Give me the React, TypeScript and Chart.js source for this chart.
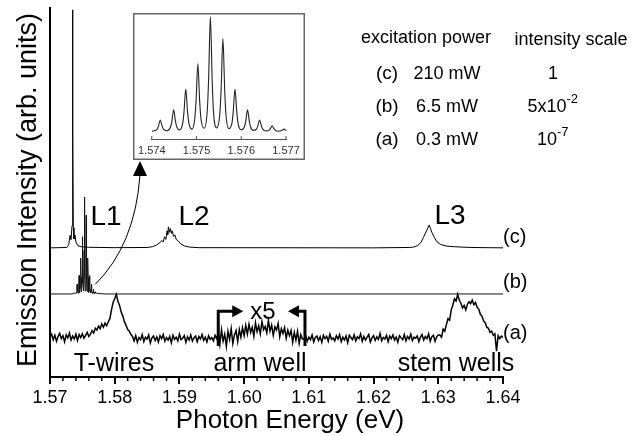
import React, { useEffect, useRef } from "react";
import { Chart, registerables } from "chart.js";

Chart.register(...registerables);

const FONT = "'Liberation Sans', Arial, Helvetica, sans-serif";

// ---------- axis ticks ----------
const X_TICKS = [1.57, 1.58, 1.59, 1.6, 1.61, 1.62, 1.63, 1.64];
const X_MIN = 1.57;
const X_MAX = 1.64;
const MINOR_STEP = 0.002;
const INSET_TICKS = [1.574, 1.575, 1.576, 1.577];

// ---------- trace offsets (stacking of spectra) ----------
const OFFSET_C = 35.0;
const OFFSET_B = 22.5;
const OFFSET_A = 10.6;
const COMB_SCALE = 26.3; // intensity of the L1 comb of (b) in main-plot units

// ---------- (c) 210 mW : [energy eV, intensity] ----------
const TRACE_C: [number, number][] = [
  [1.57, 0.0], [1.5726, 0.1], [1.5729, 0.9], [1.5731, 3.4], [1.57325, 2.2],
  [1.5734, 6.0], [1.57347, 30.0], [1.57351, 64.5], [1.57355, 30.0], [1.5736, 5.5],
  [1.5737, 2.4], [1.57385, 3.5], [1.574, 1.6], [1.5743, 0.6], [1.5748, 0.3],
  [1.576, 0.15], [1.58, 0.05], [1.585, 0.1], [1.5858, 0.3], [1.5864, 0.7],
  [1.5869, 1.3], [1.5873, 2.0], [1.5875, 1.6], [1.5877, 3.0], [1.5879, 2.3],
  [1.5881, 4.6], [1.5882, 3.6], [1.5883, 5.7], [1.5885, 4.2], [1.5886, 5.2],
  [1.5888, 3.9], [1.5889, 4.6], [1.5891, 3.1], [1.5893, 3.5], [1.5895, 2.3],
  [1.5898, 1.9], [1.5902, 1.1], [1.5908, 0.5], [1.5916, 0.2], [1.593, 0.05],
  [1.62, 0.0], [1.6255, 0.1], [1.6262, 0.2], [1.6268, 0.6], [1.6273, 1.4],
  [1.6277, 2.8], [1.6281, 4.3], [1.6286, 6.2], [1.629, 4.2], [1.6294, 2.8],
  [1.6298, 1.6], [1.6304, 0.9], [1.6312, 0.5], [1.6325, 0.3], [1.635, 0.1],
  [1.64, 0.0],
];

// ---------- (b) 6.5 mW, L1 comb (normalized, also shown in the inset) ----------
const COMB: [number, number][] = [
  [1.574, 0.004],
  [1.57412, 0.02], [1.57415, 0.05], [1.57419, 0.1], [1.57423, 0.05], [1.57426, 0.022], [1.57434, 0.008],
  [1.57442, 0.04], [1.57445, 0.09], [1.57449, 0.19], [1.57453, 0.09], [1.57456, 0.04], [1.57462, 0.014],
  [1.57469, 0.07], [1.57472, 0.17], [1.57476, 0.37], [1.5748, 0.17], [1.57483, 0.075], [1.5749, 0.022],
  [1.57496, 0.11], [1.57499, 0.27], [1.57503, 0.59], [1.57507, 0.27], [1.5751, 0.11], [1.57517, 0.03],
  [1.57524, 0.18], [1.57527, 0.45], [1.57531, 1.0], [1.57535, 0.45], [1.57538, 0.17], [1.57545, 0.032],
  [1.57552, 0.15], [1.57555, 0.37], [1.57559, 0.81], [1.57563, 0.36], [1.57566, 0.14], [1.57572, 0.026],
  [1.57579, 0.07], [1.57582, 0.17], [1.57586, 0.37], [1.5759, 0.17], [1.57593, 0.07], [1.576, 0.016],
  [1.57607, 0.04], [1.5761, 0.09], [1.57614, 0.19], [1.57618, 0.09], [1.57621, 0.04], [1.57627, 0.01],
  [1.57634, 0.022], [1.57637, 0.05], [1.57641, 0.1], [1.57645, 0.05], [1.57648, 0.022], [1.57655, 0.006],
  [1.57662, 0.013], [1.57665, 0.026], [1.57669, 0.05], [1.57673, 0.026], [1.57676, 0.013], [1.57683, 0.003],
  [1.5769, 0.009], [1.57693, 0.016], [1.57696, 0.022], [1.577, 0.01],
];
const B_LEFT: [number, number][] = [[1.57, 0], [1.5734, 0], [1.5737, 0.01], [1.5739, 0.006]];
const B_RIGHT: [number, number][] = [[1.5772, 0.008], [1.5776, 0.004], [1.5785, 0], [1.64, 0]];

// ---------- (a) 0.3 mW, sampled every A_STEP eV from A_START ----------
const A_START = 1.57;
const A_STEP = 0.00025;
const A_VALUES: number[] = [
  // 1.5700 - 1.5760
  0.3, 1.0, -0.5, 0.7, -0.9, 0.4, 1.2, -0.2, 0.6, -1.1, 0.8, 0.0, 1.3, -0.6, 0.5, -0.3, 1.0, -0.7, 0.9, 0.1,
  1.1, -0.1, 0.7, 1.5, 0.4,
  // shoulder
  1.0, 2.0, 1.3, 2.6, 2.1, 3.2, 2.5, 3.8, 2.9, 4.0, 3.3, 4.3,
  // T-wires peak
  5.2, 7.6, 9.6, 10.6, 11.8, 9.9, 8.8, 7.0, 5.9, 4.4, 3.4, 2.3, 1.8, 0.9,
  // baseline to 1.596
  0.4, -0.8, 0.6, -1.2, 0.1, -0.5, 0.9, -1.0, 0.2, -0.3,
  0.8, -1.4, 0.0, 0.5, -0.7, 0.3, -1.1, 0.6, -0.2, 0.9,
  -0.9, 0.1, -0.6, 0.4, -1.3, 0.7, -0.4, 0.2, -0.8, 1.0,
  -0.5, -0.1, 0.6, -1.2, 0.3, -0.6, 0.8, -0.9, 0.0, 0.5,
  -1.0, 0.4, -0.3, 0.9, -0.7, 0.2, -1.1, 0.6, -0.4, 0.1,
  -0.8, 0.7, -0.2,
  // x5 region (arm well)
  1.5, -1.8, 2.2, -0.9, 1.0, -2.3, 1.8, -0.4, 2.5, -1.5, 0.8, 2.0, -1.0,
  2.3, 0.2, 2.8, 0.6, 3.4, 1.0, 3.7, 1.5, 2.9, 0.4,
  4.1, 1.7, 3.3, 1.1, 4.4, 2.2, 3.1, 1.4, 4.7, 1.9,
  3.5, 0.7, 3.0, 2.1, 3.9, 0.3, 2.5, 1.2, 2.8, -0.1,
  2.1, 0.6,
  2.0, -1.2, 1.5, -0.6, 1.8, -1.5, 0.9, -0.3,
  // baseline to 1.630
  -0.3, 0.6, -0.9, 0.2, -0.5, 0.8, -1.1, 0.1, 0.5, -0.7,
  0.3, -1.2, 0.7, -0.2, 0.4, -0.9, 1.0, -0.4, 0.0, -0.8,
  0.6, -0.3, 0.9, -1.0, 0.2, -0.6, 0.5, -1.3, 0.7, 0.1,
  -0.5, 0.8, -0.8, 0.3, -0.2, 1.1, -0.9, 0.4, -0.6, 0.2,
  0.9, -1.1, 0.0, 0.6, -0.7, 0.3, -0.4, 1.2, -0.8, 0.1,
  -0.3, 0.7, -1.0, 0.5, -0.2, 0.8, -0.6, 0.2, -1.2, 0.6,
  0.0, -0.5, 0.9, -0.8, 0.4, -0.3, 1.0, -0.7, 0.2, -0.1,
  0.5, -1.0, 0.2, 0.9, -0.6, 0.4, -0.2, 1.1, -0.9, 0.3,
  0.7, -0.9, 0.3, 0.8,
  // stem wells
  0.8, 0.2, 2.4, 1.8, 3.6, 5.2, 4.8, 7.6, 8.9, 10.6,
  10.0, 11.8, 10.2, 9.4, 8.1, 8.8, 7.6, 9.1, 9.8, 9.3,
  10.2, 9.0, 9.6, 8.3, 7.8, 6.4, 5.9, 4.6, 4.1, 2.9,
  2.6, 1.5, 1.8, 0.7, 1.1, -3.6, 0.6, -0.2, 0.5, 0.1,
];

// ---------- x5 bracket ----------
const X5_START = 1.596;
const X5_END = 1.6094;
const BRACKET_TOP = 17.8;
const BRACKET_BOTTOM = 8.4;

// ---------- table text ----------
const TABLE_ROWS = [
  { label: "(c)", power: "210 mW", scale: "1", exp: "" },
  { label: "(b)", power: "6.5 mW", scale: "5x10", exp: "-2" },
  { label: "(a)", power: "0.3 mW", scale: "10", exp: "-7" },
];

const pts = (arr: [number, number][], off: number, k = 1) => arr.map(([x, y]) => ({ x, y: off + y * k }));

const mainPlugin = {
  id: "mainDecor",
  afterDraw(chart: any) {
    const ctx: CanvasRenderingContext2D = chart.ctx;
    const xs = chart.scales.x;
    const ys = chart.scales.y;
    ctx.save();
    // minor ticks
    ctx.strokeStyle = "#000";
    ctx.lineWidth = 1.5;
    const n = Math.round((X_MAX - X_MIN) / MINOR_STEP);
    for (let k = 0; k <= n; k++) {
      if (k % 5 === 0) continue;
      const px = xs.getPixelForValue(X_MIN + k * MINOR_STEP);
      ctx.beginPath();
      ctx.moveTo(px, xs.top);
      ctx.lineTo(px, xs.top + 4);
      ctx.stroke();
    }
    const txt = (s: string, x: number, y: number, size: number, align: CanvasTextAlign = "center") => {
      ctx.font = `${size}px ${FONT}`;
      ctx.textAlign = align;
      ctx.textBaseline = "alphabetic";
      ctx.fillStyle = "#000";
      ctx.fillText(s, x, y);
    };
    // axis titles
    txt("Photon Energy (eV)", 290, 428, 26);
    ctx.save();
    ctx.translate(36, 190);
    ctx.rotate(-Math.PI / 2);
    txt("Emission Intensity (arb. units)", 0, 0, 27);
    ctx.restore();
    // peak labels
    txt("L1", 106, 225, 28);
    txt("L2", 194, 225, 28);
    txt("L3", 450, 224, 28);
    txt("T-wires", 114, 371, 25);
    txt("arm well", 260, 371, 25);
    txt("stem wells", 456, 371, 25);
    txt("x5", 263, 319, 24);
    // trace labels
    txt("(c)", 503, 243, 20, "left");
    txt("(b)", 503, 288, 20, "left");
    txt("(a)", 503, 339, 20, "left");
    // table
    txt("excitation power", 426, 43, 18);
    txt("intensity scale", 571, 45, 18);
    const rowBase = [79, 112, 145];
    TABLE_ROWS.forEach((r, i) => {
      const yb = rowBase[i];
      txt(r.label, 387, yb, 19);
      txt(r.power, 447, yb, 18);
      if (!r.exp) {
        txt(r.scale, 553, yb, 18);
      } else {
        ctx.font = `18px ${FONT}`;
        const w = ctx.measureText(r.scale).width;
        const left = 551 - w / 2 - 4;
        txt(r.scale, left, yb, 18, "left");
        txt(r.exp, left + w, yb - 9, 13, "left");
      }
    });
    // x5 brackets
    ctx.strokeStyle = "#000";
    ctx.fillStyle = "#000";
    ctx.lineWidth = 3;
    ctx.lineJoin = "miter";
    const xl = xs.getPixelForValue(X5_START);
    const xr = xs.getPixelForValue(X5_END);
    const yt = ys.getPixelForValue(BRACKET_TOP);
    const yb = ys.getPixelForValue(BRACKET_BOTTOM);
    ctx.beginPath();
    ctx.moveTo(xl, yb);
    ctx.lineTo(xl, yt);
    ctx.lineTo(xl + 15, yt);
    ctx.stroke();
    ctx.beginPath();
    ctx.moveTo(xl + 14, yt - 6);
    ctx.lineTo(xl + 25, yt);
    ctx.lineTo(xl + 14, yt + 6);
    ctx.closePath();
    ctx.fill();
    ctx.beginPath();
    ctx.moveTo(xr, yb);
    ctx.lineTo(xr, yt);
    ctx.lineTo(xr - 7, yt);
    ctx.stroke();
    ctx.beginPath();
    ctx.moveTo(xr - 6, yt - 6);
    ctx.lineTo(xr - 17, yt);
    ctx.lineTo(xr - 6, yt + 6);
    ctx.closePath();
    ctx.fill();
    // curved arrow from L1 comb to inset
    const sx = xs.getPixelForValue(1.577);
    const sy = ys.getPixelForValue(OFFSET_B + 0.1 * COMB_SCALE);
    ctx.lineWidth = 1;
    ctx.beginPath();
    ctx.moveTo(sx, sy);
    ctx.quadraticCurveTo(135, 245, 140, 175);
    ctx.stroke();
    ctx.beginPath();
    ctx.moveTo(140, 161);
    ctx.lineTo(147, 176);
    ctx.lineTo(133, 176);
    ctx.closePath();
    ctx.fill();
    ctx.restore();
  },
};

const insetPlugin = {
  id: "insetDecor",
  beforeDraw(chart: any) {
    const ctx: CanvasRenderingContext2D = chart.ctx;
    ctx.save();
    ctx.fillStyle = "#fff";
    ctx.fillRect(0, 0, chart.width, chart.height);
    ctx.restore();
  },
  afterDraw(chart: any) {
    const ctx: CanvasRenderingContext2D = chart.ctx;
    const xs = chart.scales.x;
    ctx.save();
    ctx.strokeStyle = "#555";
    ctx.lineWidth = 1;
    INSET_TICKS.forEach((v) => {
      const px = xs.getPixelForValue(v);
      ctx.beginPath();
      ctx.moveTo(px, xs.top);
      ctx.lineTo(px, xs.top - 3);
      ctx.stroke();
    });
    ctx.strokeStyle = "#666";
    ctx.lineWidth = 1.5;
    ctx.strokeRect(0.75, 0.75, chart.width - 1.5, chart.height - 1.5);
    ctx.restore();
  },
};

export default function App() {
  const mainRef = useRef<HTMLCanvasElement>(null);
  const insetRef = useRef<HTMLCanvasElement>(null);

  useEffect(() => {
    Chart.defaults.font.family = FONT;
    const aData = A_VALUES.map((v, i) => ({ x: A_START + i * A_STEP, y: OFFSET_A + v }));
    const bData = [...pts(B_LEFT, OFFSET_B, COMB_SCALE), ...pts(COMB, OFFSET_B, COMB_SCALE), ...pts(B_RIGHT, OFFSET_B, COMB_SCALE)];
    const main = new Chart(mainRef.current!, {
      type: "line",
      data: {
        datasets: [
          { data: pts(TRACE_C, OFFSET_C), borderColor: "#000", borderWidth: 1, pointRadius: 0, tension: 0 },
          { data: bData, borderColor: "#111", borderWidth: 1, pointRadius: 0, tension: 0 },
          { data: aData, borderColor: "#000", borderWidth: 1.5, pointRadius: 0, tension: 0 },
        ],
      } as any,
      options: {
        responsive: false,
        animation: false,
        events: [],
        layout: { padding: { left: 0, right: 136, top: 8, bottom: 0 } },
        plugins: { legend: { display: false }, tooltip: { enabled: false } },
        scales: {
          x: {
            type: "linear",
            min: X_MIN,
            max: X_MAX,
            afterBuildTicks: (s: any) => {
              s.ticks = X_TICKS.map((v) => ({ value: v }));
            },
            afterFit: (s: any) => {
              s.height = 59;
            },
            ticks: {
              font: { family: FONT, size: 18 },
              color: "#000",
              padding: 3,
              maxRotation: 0,
              autoSkip: false,
              callback: (v: any) => Number(v).toFixed(2),
            },
            grid: { display: true, drawOnChartArea: false, drawTicks: true, tickLength: 7, lineWidth: 2, color: "#000" },
            border: { display: true, color: "#000", width: 2 },
          },
          y: {
            min: 0,
            max: 100,
            afterFit: (s: any) => {
              s.width = 50;
            },
            ticks: { display: false },
            grid: { display: true, drawOnChartArea: false, drawTicks: false },
            border: { display: true, color: "#000", width: 2 },
          },
        },
      } as any,
      plugins: [mainPlugin],
    });

    const inset = new Chart(insetRef.current!, {
      type: "line",
      data: {
        datasets: [
          {
            data: pts(COMB, 0),
            borderColor: "#222",
            borderWidth: 1.1,
            pointRadius: 0,
            cubicInterpolationMode: "monotone",
          },
        ],
      } as any,
      options: {
        responsive: false,
        animation: false,
        events: [],
        layout: { padding: { left: 13, right: 19, top: 3, bottom: 0 } },
        plugins: { legend: { display: false }, tooltip: { enabled: false } },
        scales: {
          x: {
            type: "linear",
            min: 1.574,
            max: 1.577,
            afterBuildTicks: (s: any) => {
              s.ticks = INSET_TICKS.map((v) => ({ value: v }));
            },
            afterFit: (s: any) => {
              s.height = 21;
            },
            ticks: {
              font: { family: FONT, size: 11 },
              color: "#333",
              padding: 5,
              maxRotation: 0,
              autoSkip: false,
              callback: (v: any) => Number(v).toFixed(3),
            },
            grid: { display: true, drawOnChartArea: false, drawTicks: false },
            border: { display: true, color: "#555", width: 1 },
          },
          y: { display: false, min: -0.064, max: 1.006 },
        },
      } as any,
      plugins: [insetPlugin],
    });

    return () => {
      main.destroy();
      inset.destroy();
    };
  }, []);

  return (
    <div style={{ position: "absolute", left: 0, top: 0, width: 639, height: 436, background: "#fff" }}>
      <canvas ref={mainRef} width={639} height={436} style={{ position: "absolute", left: 0, top: 0, width: 639, height: 436 }} />
      <canvas ref={insetRef} width={172} height={147} style={{ position: "absolute", left: 133, top: 13, width: 172, height: 147 }} />
    </div>
  );
}
